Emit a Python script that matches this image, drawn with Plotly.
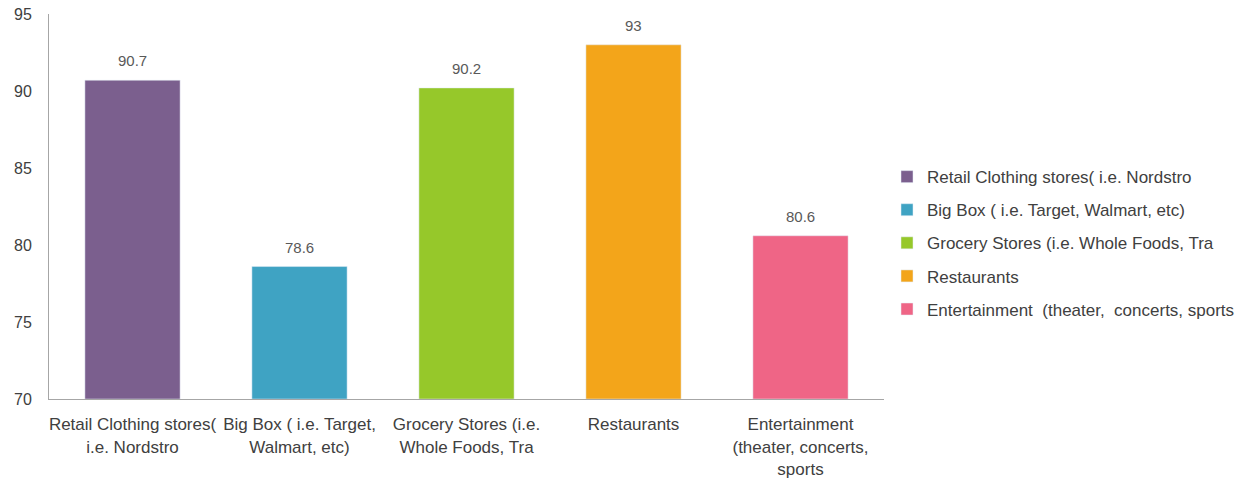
import plotly.graph_objects as go

categories = ["Retail Clothing stores( i.e. Nordstro",
              "Big Box ( i.e. Target, Walmart, etc)",
              "Grocery Stores (i.e. Whole Foods, Tra",
              "Restaurants",
              "Entertainment  (theater,  concerts, sports"]
tick_labels = ["Retail Clothing stores(<br>i.e. Nordstro",
               "Big Box ( i.e. Target,<br>Walmart, etc)",
               "Grocery Stores (i.e.<br>Whole Foods, Tra",
               "Restaurants",
               "Entertainment<br>(theater, concerts,<br>sports"]
values = [90.7, 78.6, 90.2, 93, 80.6]
colors = ["#7B5F8E", "#3FA3C3", "#96C82A", "#F3A51A", "#EF6586"]
y_base = 70

font = "Liberation Sans, Arial, sans-serif"

fig = go.Figure()
for i, (name, v, c) in enumerate(zip(categories, values, colors)):
    fig.add_trace(go.Bar(
        x=[i], y=[v - y_base], base=y_base, name=name, marker_color=c, width=0.57,
        legendgroup=f"g{i}", cliponaxis=False,
    ))
    fig.add_annotation(x=i, y=v, text=f"{v:g}", showarrow=False,
                       yanchor="bottom", yshift=9,
                       font=dict(size=15, color="#595959", family=font))

fig.update_layout(
    width=1244, height=480,
    margin=dict(l=49, r=360, t=14, b=81, autoexpand=False),
    plot_bgcolor="white", paper_bgcolor="white",
    barmode="overlay",
    font=dict(family=font, color="#404040", size=15),
    xaxis=dict(range=[-0.5, 4.5], tickvals=list(range(5)), ticktext=tick_labels,
               showline=True, linecolor="#a6a6a6", linewidth=1, ticks="",
               showgrid=False, automargin=False, ticklabelstandoff=10,
               tickfont=dict(size=17, color="#404040")),
    yaxis=dict(range=[y_base, 95], dtick=5, showline=True, linecolor="#a6a6a6",
               linewidth=1, showgrid=False, zeroline=False, ticks="",
               automargin=False, ticklabelstandoff=13, ticklabeloverflow="allow",
               tickfont=dict(size=16, color="#404040")),
    showlegend=True,
    legend=dict(x=1.0036, xanchor="left", y=0.405, yanchor="middle",
                traceorder="grouped", tracegroupgap=8,
                font=dict(size=17, color="#404040")),
)
fig.write_html("out.html", config={"displayModeBar": False},
               post_script="document.body.style.margin='0';document.body.style.overflow='hidden';")
